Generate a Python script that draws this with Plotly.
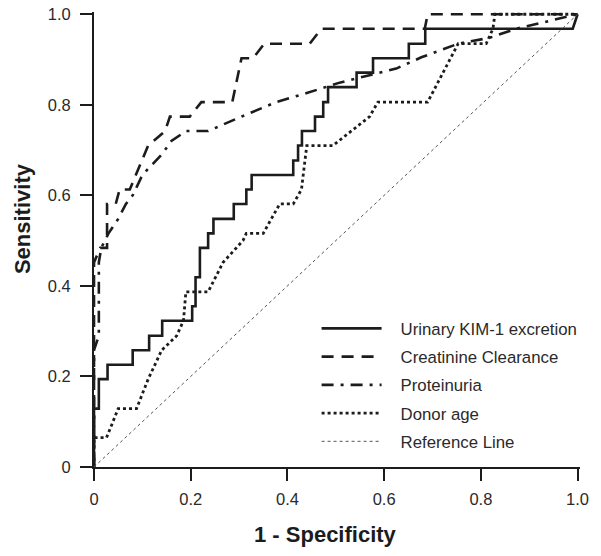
import plotly.graph_objects as go

# ROC points (1 - specificity, sensitivity)
kim_x = [0, 0, 0.01, 0.01, 0.028, 0.028, 0.08, 0.08, 0.114, 0.114, 0.141, 0.141,
         0.203, 0.203, 0.21, 0.21, 0.219, 0.219, 0.236, 0.236, 0.247, 0.247,
         0.289, 0.289, 0.315, 0.315, 0.326, 0.326, 0.412, 0.412, 0.422, 0.422,
         0.43, 0.43, 0.457, 0.457, 0.474, 0.474, 0.484, 0.484, 0.543, 0.543,
         0.577, 0.577, 0.651, 0.651, 0.685, 0.685, 0.99, 1.0]
kim_y = [0, 0.129, 0.129, 0.194, 0.194, 0.226, 0.226, 0.258, 0.258, 0.29, 0.29, 0.323,
         0.323, 0.355, 0.355, 0.419, 0.419, 0.484, 0.484, 0.516, 0.516, 0.548,
         0.548, 0.581, 0.581, 0.613, 0.613, 0.645, 0.645, 0.677, 0.677, 0.71,
         0.71, 0.742, 0.742, 0.774, 0.774, 0.806, 0.806, 0.839, 0.839, 0.871,
         0.871, 0.903, 0.903, 0.935, 0.935, 0.968, 0.968, 1.0]

crcl_x = [0, 0, 0.013, 0.027, 0.027, 0.045, 0.053, 0.074, 0.112, 0.147, 0.157, 0.198,
          0.222, 0.286, 0.305, 0.329, 0.352, 0.446, 0.47, 0.684, 0.69, 1.0]
crcl_y = [0, 0.452, 0.484, 0.484, 0.581, 0.581, 0.613, 0.613, 0.71, 0.742, 0.774, 0.774,
          0.806, 0.806, 0.903, 0.903, 0.935, 0.935, 0.968, 0.968, 1.0, 1.0]

prot_x = [0, 0, 0.01, 0.01, 0.015, 0.03, 0.05, 0.066, 0.08, 0.1, 0.14, 0.16, 0.19,
          0.236, 0.305, 0.377, 0.44, 0.508, 0.625, 0.677, 0.753, 0.818, 0.873, 0.963, 1.0]
prot_y = [0, 0.258, 0.29, 0.452, 0.484, 0.516, 0.548, 0.581, 0.6, 0.645, 0.69, 0.72, 0.742,
          0.742, 0.774, 0.806, 0.826, 0.849, 0.88, 0.905, 0.935, 0.948, 0.968, 0.99, 1.0]

age_x = [0, 0, 0.026, 0.05, 0.088, 0.112, 0.14, 0.171, 0.185, 0.19, 0.236, 0.267, 0.308,
         0.315, 0.35, 0.384, 0.412, 0.429, 0.44, 0.494, 0.57, 0.587, 0.69, 0.753, 0.811,
         0.825, 0.829, 1.0]
age_y = [0, 0.065, 0.065, 0.129, 0.129, 0.194, 0.258, 0.29, 0.323, 0.387, 0.387, 0.452, 0.5,
         0.516, 0.516, 0.581, 0.581, 0.613, 0.71, 0.71, 0.774, 0.806, 0.806, 0.935, 0.935,
         0.968, 1.0, 1.0]

ref_x = [0, 1]
ref_y = [0, 1]

series_names = ["Urinary KIM-1 excretion", "Creatinine Clearance", "Proteinuria",
                "Donor age", "Reference Line"]

tick_vals = [0, 0.2, 0.4, 0.6, 0.8, 1.0]
tick_text = ["0", "0.2", "0.4", "0.6", "0.8", "1.0"]

x_title = "1 - Specificity"
y_title = "Sensitivity"

INK = "#1c1c1c"
FONT = "Liberation Sans, Arial, Helvetica, sans-serif"
PAD = "\u00a0\u00a0\u00a0"  # gap between legend sample and label

fig = go.Figure()
styles = [
    (kim_x, kim_y, dict(color=INK, width=2.6, dash="solid")),
    (crcl_x, crcl_y, dict(color=INK, width=2.6, dash="12px,8px")),
    (prot_x, prot_y, dict(color=INK, width=2.6, dash="12px,7px,3px,7px")),
    (age_x, age_y, dict(color=INK, width=2.8, dash="3px,3px")),
    (ref_x, ref_y, dict(color="#555555", width=1, dash="3px,3px")),
]
for i, (name, (xs, ys, ln)) in enumerate(zip(series_names, styles)):
    fig.add_trace(go.Scatter(x=xs, y=ys, mode="lines", name=PAD + name, line=ln,
                             legendgroup=f"g{i}", hoverinfo="skip"))

axis_common = dict(
    tickvals=tick_vals, ticktext=tick_text, ticks="outside", ticklen=12,
    tickwidth=1.8, tickcolor=INK, showline=True, linecolor=INK, linewidth=2,
    showgrid=False, zeroline=False, mirror=False, automargin=False,
    ticklabeloverflow="allow",
    tickfont=dict(family=FONT, size=16.5, color="#2a2a2a"),
    range=[0, 1.005],
)

fig.update_layout(
    width=601, height=556,
    margin=dict(l=94, r=21, t=12, b=89),
    plot_bgcolor="white", paper_bgcolor="white",
    xaxis=dict(ticklabelstandoff=4, **axis_common),
    yaxis=dict(ticklabelstandoff=6, **axis_common),
    showlegend=True,
    legend=dict(x=0.458, y=0.343, xanchor="left", yanchor="top",
                bgcolor="rgba(0,0,0,0)", borderwidth=0,
                font=dict(family=FONT, size=16.8, color="#2a2a2a"),
                itemwidth=60, tracegroupgap=3.4, traceorder="grouped"),
    annotations=[
        dict(text=f"<b>{x_title}</b>", xref="paper", yref="paper", x=0.477, y=-0.149,
             xanchor="center", yanchor="middle", showarrow=False,
             font=dict(family=FONT, size=22, color=INK)),
        dict(text=f"<b>{y_title}</b>", xref="paper", yref="paper", x=-0.148, y=0.545,
             xanchor="center", yanchor="middle", showarrow=False, textangle=-90,
             font=dict(family=FONT, size=22, color=INK)),
    ],
)

fig.write_html("out.html", config={"displayModeBar": False},
               post_script="document.body.style.margin='0';")
